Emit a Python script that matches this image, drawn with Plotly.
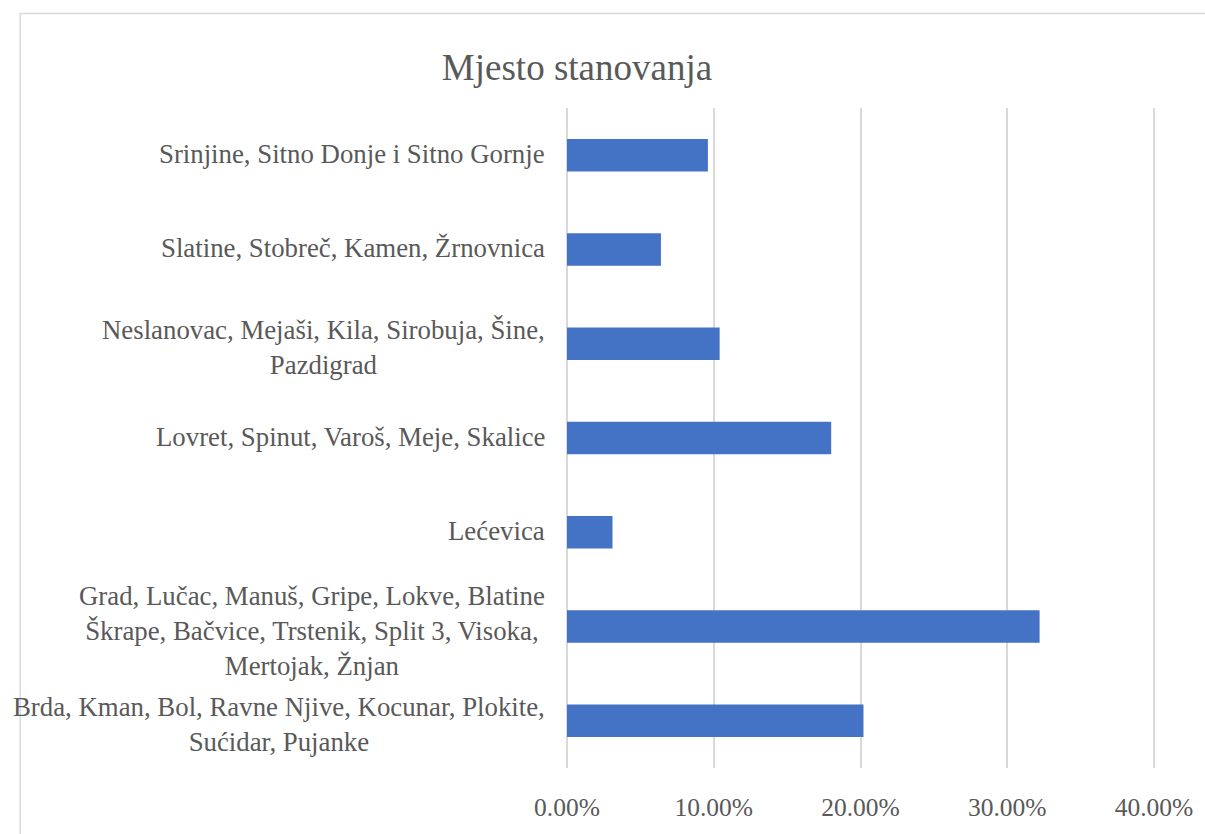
import plotly.graph_objects as go

categories = [
    "Srinjine, Sitno Donje i Sitno Gornje",
    "Slatine, Stobreč, Kamen, Žrnovnica",
    "Neslanovac, Mejaši, Kila, Sirobuja, Šine,<br>Pazdigrad",
    "Lovret, Spinut, Varoš, Meje, Skalice",
    "Lećevica",
    "Grad, Lučac, Manuš, Gripe, Lokve, Blatine<br>Škrape, Bačvice, Trstenik, Split 3, Visoka,<br>Mertojak, Žnjan",
    "Brda, Kman, Bol, Ravne Njive, Kocunar, Plokite,<br>Sućidar, Pujanke",
]
values = [0.096, 0.064, 0.104, 0.180, 0.031, 0.322, 0.202]
tick_values = [0, 0.1, 0.2, 0.3, 0.4]
title_text = "Mjesto stanovanja"

W, H = 1205, 834
L, R, T, B = 567, 37, 108, 56
pw, ph = W - L - R, H - T - B

FONT = "Liberation Serif"
GRAY = "#595959"
GRID = "#d9d9d9"
LABEL_SIZE = 26.8

fig = go.Figure(go.Bar(
    x=values, y=categories, orientation="h",
    marker=dict(color="#4472C4", line=dict(width=0)),
    hoverinfo="x",
))

annotations = []
for c in categories:
    n = len(c.split("<br>"))
    annotations.append(dict(
        x=-20 / pw, xref="paper", y=c, yref="y",
        text=c, showarrow=False, xanchor="right", yanchor="middle",
        align="center", yshift=(1 if n == 1 else -4),
        font=dict(family=FONT, size=LABEL_SIZE, color=GRAY),
    ))

fig.update_layout(
    width=W, height=H,
    margin=dict(l=L, r=R, t=T, b=B, pad=0),
    paper_bgcolor="white", plot_bgcolor="white",
    bargap=0.655,
    showlegend=False,
    title=dict(text=title_text, x=577 / W, xanchor="center", y=1 - 67 / H,
               yanchor="middle", xref="container", yref="container",
               font=dict(family=FONT, size=37, color=GRAY)),
    xaxis=dict(range=[0, 0.402], tickvals=tick_values, tickformat=".2%",
               showgrid=True, gridcolor=GRID, gridwidth=1.5,
               zeroline=True, zerolinecolor=GRID, zerolinewidth=1.5,
               showline=False, ticks="",
               ticklabelstandoff=21,
               tickfont=dict(family=FONT, size=25.5, color=GRAY)),
    yaxis=dict(type="category", autorange="reversed", showticklabels=False,
               showgrid=False, zeroline=False, showline=False, ticks=""),
    annotations=annotations,
    shapes=[dict(type="rect", xref="paper", yref="paper",
                 x0=(10 - L) / pw, x1=(1230 - L) / pw,
                 y0=(H - B - 900) / ph, y1=(H - B - 12) / ph,
                 line=dict(color=GRID, width=1.5), layer="below")],
)

fig.write_html("out.html", config={"displayModeBar": False},
               post_script="document.body.style.margin='0';document.body.style.overflow='hidden';")
